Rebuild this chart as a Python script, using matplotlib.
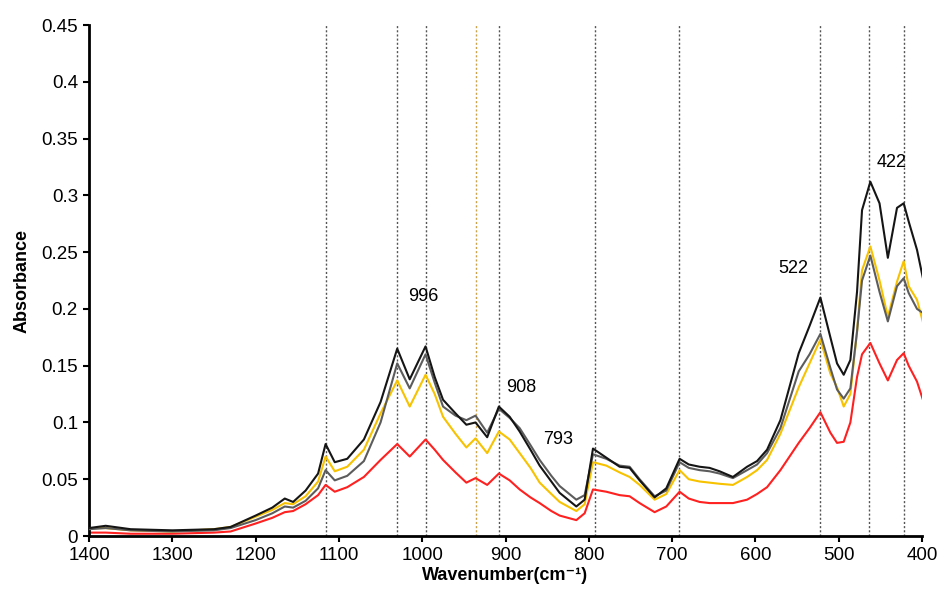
import matplotlib
matplotlib.use("Agg")
import matplotlib.pyplot as plt
from matplotlib.ticker import FuncFormatter, MultipleLocator

plt.rcParams['font.family'] = ['Liberation Sans', 'DejaVu Sans']

wavenumber = [1400, 1380, 1350, 1300, 1250, 1230, 1200, 1180, 1165, 1155, 1140, 1125,
              1116, 1105, 1090, 1070, 1050, 1030, 1015, 996, 985, 975, 960, 947, 936,
              922, 908, 895, 883, 870, 859, 845, 835, 815, 805, 795, 779, 763, 751, 739,
              721, 707, 691, 680, 667, 655, 643, 627, 610, 598, 586, 570, 548, 535, 522,
              510, 502, 494, 486, 478, 472, 462, 451, 441, 430, 422, 416, 406, 398]

black = [0.007, 0.009, 0.006, 0.005, 0.006, 0.008, 0.018, 0.025, 0.033, 0.030, 0.040, 0.055,
         0.081, 0.065, 0.068, 0.085, 0.118, 0.165, 0.138, 0.167, 0.140, 0.120, 0.108, 0.098, 0.100,
         0.087, 0.114, 0.105, 0.092, 0.076, 0.062, 0.048, 0.038, 0.026, 0.032, 0.077, 0.069, 0.061, 0.060, 0.049,
         0.034, 0.042, 0.068, 0.063, 0.061, 0.060, 0.057, 0.052, 0.061, 0.066, 0.076, 0.102, 0.161, 0.185, 0.210,
         0.175, 0.152, 0.142, 0.155, 0.215, 0.287, 0.312, 0.293, 0.245, 0.289, 0.293, 0.277, 0.252, 0.224]

grey = [0.006, 0.007, 0.005, 0.004, 0.005, 0.007, 0.014, 0.020, 0.026, 0.025, 0.031, 0.042,
        0.058, 0.049, 0.053, 0.066, 0.100, 0.152, 0.130, 0.160, 0.135, 0.114, 0.106, 0.102, 0.106,
        0.091, 0.112, 0.104, 0.095, 0.080, 0.067, 0.053, 0.044, 0.032, 0.036, 0.072, 0.068, 0.062, 0.061, 0.050,
        0.035, 0.040, 0.065, 0.060, 0.058, 0.057, 0.055, 0.051, 0.058, 0.063, 0.073, 0.095, 0.145, 0.160, 0.178,
        0.148, 0.129, 0.121, 0.130, 0.180, 0.225, 0.247, 0.215, 0.189, 0.220, 0.227, 0.214, 0.200, 0.196]

gold = [0.007, 0.007, 0.005, 0.004, 0.006, 0.008, 0.017, 0.023, 0.029, 0.028, 0.035, 0.048,
        0.070, 0.057, 0.061, 0.076, 0.108, 0.137, 0.114, 0.142, 0.125, 0.105, 0.090, 0.078, 0.086,
        0.073, 0.092, 0.085, 0.073, 0.060, 0.047, 0.037, 0.030, 0.022, 0.028, 0.065, 0.062, 0.056, 0.052, 0.045,
        0.032, 0.037, 0.058, 0.050, 0.048, 0.047, 0.046, 0.045, 0.052, 0.058, 0.067, 0.090, 0.131, 0.152, 0.173,
        0.143, 0.131, 0.114, 0.125, 0.180, 0.234, 0.255, 0.225, 0.193, 0.224, 0.242, 0.220, 0.208, 0.186]

red = [0.003, 0.003, 0.002, 0.002, 0.003, 0.004, 0.011, 0.016, 0.021, 0.022, 0.028, 0.036,
       0.045, 0.039, 0.043, 0.052, 0.067, 0.081, 0.070, 0.085, 0.076, 0.067, 0.056, 0.047, 0.051,
       0.045, 0.055, 0.049, 0.041, 0.034, 0.029, 0.022, 0.018, 0.014, 0.020, 0.041, 0.039, 0.036, 0.035, 0.029,
       0.021, 0.026, 0.039, 0.033, 0.030, 0.029, 0.029, 0.029, 0.032, 0.037, 0.043, 0.058, 0.082, 0.095, 0.109,
       0.091, 0.082, 0.083, 0.100, 0.140, 0.160, 0.170, 0.152, 0.137, 0.155, 0.161, 0.150, 0.136, 0.118]

# marked band positions
band_lines = [1116, 1030, 996, 908, 793, 692, 522, 464, 422]
gold_line = 936

# peak labels and where they sit
peak_labels = ['996', '908', '793', '522', '422']
label_x = [999, 881, 837, 554, 437]
label_y = [0.211, 0.131, 0.085, 0.236, 0.329]

fig = plt.figure(figsize=(9.44, 5.93), dpi=100)
ax = fig.add_axes([0.0943, 0.0961, 0.8824, 0.8617])

for b in band_lines:
    ax.axvline(b, color='#555555', linestyle=(0, (1.5, 1.5)), linewidth=1.0, zorder=1)
ax.axvline(gold_line, color='#c9a24a', linestyle=(0, (1.5, 1.5)), linewidth=1.0, zorder=1)

ax.plot(wavenumber, red, color='#ff2020', linewidth=1.5, zorder=2)
ax.plot(wavenumber, gold, color='#f7c200', linewidth=1.5, zorder=3)
ax.plot(wavenumber, grey, color='#5c5c5c', linewidth=1.5, zorder=4)
ax.plot(wavenumber, black, color='#151515', linewidth=1.5, zorder=5)

for t, x, y in zip(peak_labels, label_x, label_y):
    ax.text(x, y, t, fontsize=13, ha='center', va='center')

ax.set_xlim(1400, 400)
ax.set_ylim(0, 0.45)
ax.xaxis.set_major_locator(MultipleLocator(100))
ax.yaxis.set_major_locator(MultipleLocator(0.05))
ax.yaxis.set_major_formatter(FuncFormatter(lambda v, p: '%g' % round(v, 2)))

for s in ['top', 'right']:
    ax.spines[s].set_visible(False)
for s in ['left', 'bottom']:
    ax.spines[s].set_linewidth(2)
ax.tick_params(direction='out', length=4, width=1.5, labelsize=13.5, pad=4)

ax.set_xlabel('Wavenumber(cm\u207b\u00b9)', fontsize=13, fontweight='bold', labelpad=2)
ax.set_ylabel('Absorbance', fontsize=13, fontweight='bold', labelpad=8)

fig.savefig('out.png', dpi=100)
